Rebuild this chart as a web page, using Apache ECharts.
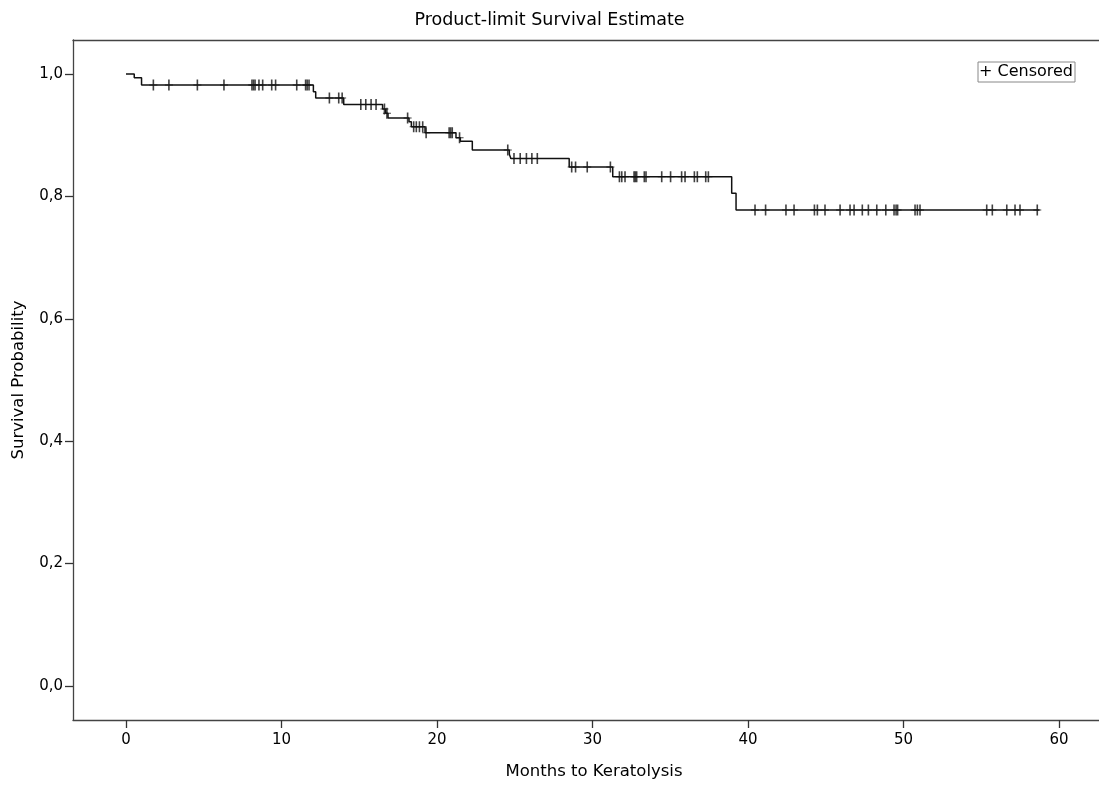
<!DOCTYPE html>
<html>
<head>
<meta charset="utf-8">
<script src="https://cdn.jsdelivr.net/npm/echarts@6/dist/echarts.min.js"></script>
<style>
html,body{margin:0;padding:0;background:#fff;}
#chart{width:1099px;height:786px;}
</style>
</head>
<body>
<div id="chart"></div>
<script>
// Event times (months) and survival probability after each event
var eventTimes = [0, 0.53, 1.0, 12.05, 12.2, 14.0, 16.5, 16.7, 16.85, 18.2, 18.35, 19.23, 21.22, 21.5, 22.27, 24.65, 24.75, 28.5, 31.3, 38.95, 39.23];
var survival   = [1.0, 0.994, 0.982, 0.971, 0.961, 0.950, 0.943, 0.936, 0.928, 0.922, 0.914, 0.904, 0.896, 0.890, 0.876, 0.869, 0.862, 0.848, 0.832, 0.805, 0.778];
var lastFollowUp = 58.75;
// Censored observation times (months)
var censorTimes = [1.76, 2.76, 4.59, 6.3, 8.1, 8.2, 8.3, 8.55, 8.79, 9.37, 9.62, 10.98, 11.55, 11.65, 11.77,
  13.08, 13.68, 13.9,
  15.1, 15.42, 15.76, 16.08,
  16.62, 16.78,
  18.11, 18.5, 18.67, 18.87, 19.08, 19.3,
  20.78, 20.88, 20.98, 21.45,
  24.55, 24.95, 25.35, 25.75, 26.1, 26.45,
  28.66, 28.91, 29.66, 31.15,
  31.73, 31.88, 32.09, 32.67, 32.75, 32.84, 33.33, 33.44, 34.45, 35.02, 35.73, 35.95, 36.55, 36.74, 37.28, 37.45,
  40.45, 41.13, 42.44, 42.96, 44.27, 44.46, 44.95, 45.92, 46.56, 46.82, 47.35, 47.74, 48.28, 48.86, 49.39, 49.52, 49.62,
  50.74, 50.89, 51.06, 55.35, 55.71, 56.64, 57.17, 57.49, 58.6];
var xTicks = [0, 10, 20, 30, 40, 50, 60];
var yTicks = [0, 0.2, 0.4, 0.6, 0.8, 1.0];

function survAt(t) {
  var s = survival[0];
  for (var i = 0; i < eventTimes.length; i++) { if (eventTimes[i] <= t) s = survival[i]; }
  return s;
}
var curve = eventTimes.map(function (t, i) { return [t, survival[i]]; });
curve.push([lastFollowUp, survAt(lastFollowUp)]);
var censored = censorTimes.map(function (t) { return [t, survAt(t)]; });

var plus = 'path://M-0.8,-5.5 L0.8,-5.5 L0.8,-0.5 L4,-0.5 L4,0.5 L0.8,0.5 L0.8,5.5 L-0.8,5.5 L-0.8,0.5 L-4,0.5 L-4,-0.5 L-0.8,-0.5 Z';
var FONT = '"DejaVu Sans", "Liberation Sans", Arial, sans-serif';
var XMIN = -3.408, XMAX = 62.57;

var chart = echarts.init(document.getElementById('chart'), null, {renderer: 'canvas'});
chart.setOption({
  animation: false,
  backgroundColor: '#fff',
  textStyle: {fontFamily: FONT},
  title: {
    text: 'Product-limit Survival Estimate',
    left: 'center', top: 6,
    textStyle: {fontSize: 17.5, fontWeight: 'normal', color: '#000', fontFamily: FONT}
  },
  legend: {
    data: [{name: 'Censored', icon: 'none'}],
    formatter: function (n) { return '+ ' + n; },
    right: 24, top: 62,
    itemWidth: 0, itemHeight: 0, itemGap: 0,
    borderColor: '#888', borderWidth: 1, padding: [1, 2, 1, 0],
    textStyle: {fontSize: 16, lineHeight: 18, color: '#000', fontFamily: FONT, padding: [0, 0, 0, -4]}
  },
  grid: {left: 73, right: 0, top: 40, bottom: 66, show: false, containLabel: false},
  xAxis: [{
    type: 'value', min: XMIN, max: XMAX,
    name: 'Months to Keratolysis', nameLocation: 'middle', nameGap: 43,
    nameTextStyle: {fontSize: 16.5, color: '#000', fontFamily: FONT, padding: [0, 0, 0, 16]},
    axisLine: {show: true, onZero: false, lineStyle: {color: '#444', width: 1.3}},
    axisTick: {show: true, customValues: xTicks, length: 8, lineStyle: {color: '#333', width: 1.3}},
    axisLabel: {show: true, customValues: xTicks, margin: 13, fontSize: 15, color: '#000', fontFamily: FONT},
    splitLine: {show: false}
  }, {
    type: 'value', position: 'top', min: XMIN, max: XMAX,
    axisLine: {show: true, onZero: false, lineStyle: {color: '#444', width: 1.3}},
    axisTick: {show: false}, axisLabel: {show: false}, splitLine: {show: false}
  }],
  yAxis: {
    type: 'value', min: -0.0556, max: 1.0556,
    name: 'Survival Probability', nameLocation: 'middle', nameGap: 46, nameRotate: 90,
    nameTextStyle: {fontSize: 16.5, color: '#000', fontFamily: FONT},
    axisLine: {show: true, onZero: false, lineStyle: {color: '#444', width: 1.3}},
    axisTick: {show: true, customValues: yTicks, length: 8, lineStyle: {color: '#333', width: 1.3}},
    axisLabel: {show: true, customValues: yTicks, margin: 10, fontSize: 15, color: '#000', fontFamily: FONT,
      formatter: function (v) { return v.toFixed(1).replace('.', ','); }},
    splitLine: {show: false}
  },
  series: [
    {
      name: 'Survival', type: 'line', step: 'end', data: curve,
      showSymbol: false, symbol: 'none',
      lineStyle: {color: '#111', width: 1.5}, z: 3
    },
    {
      name: 'Censored', type: 'scatter', data: censored,
      symbol: plus, symbolSize: [8, 11],
      itemStyle: {color: '#111'}, z: 4
    }
  ]
});
</script>
</body>
</html>
